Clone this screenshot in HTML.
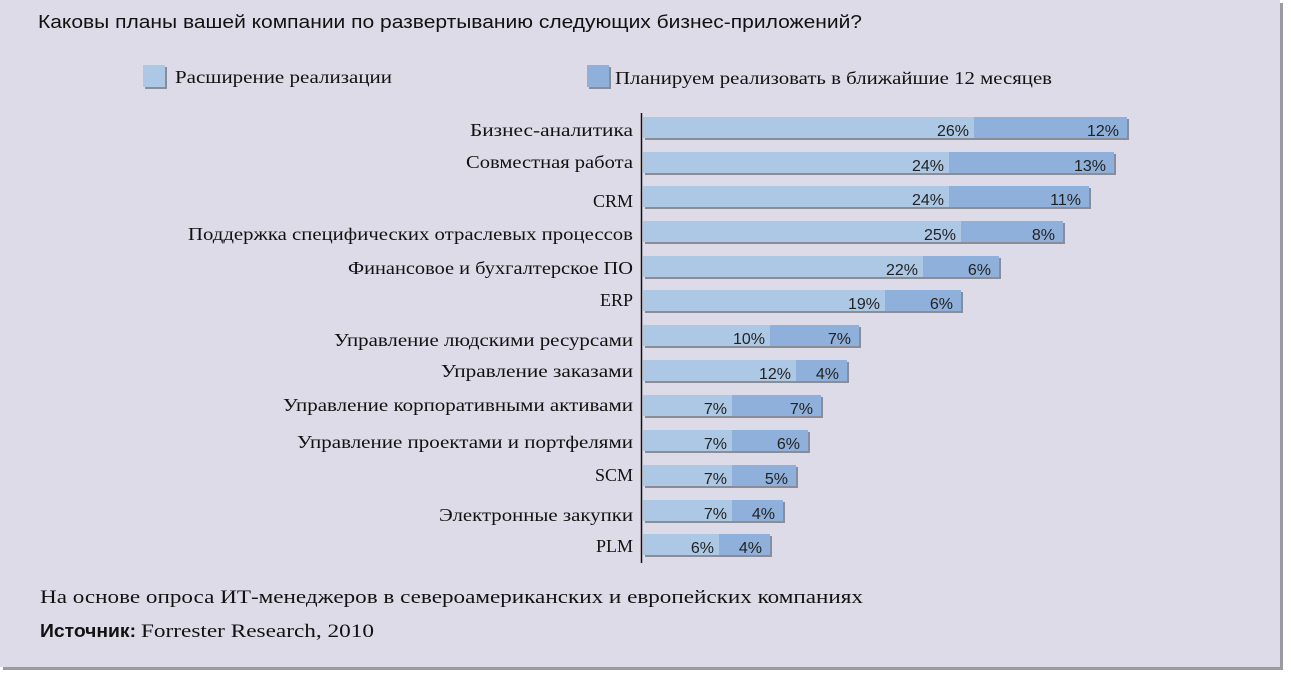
<!DOCTYPE html>
<html><head><meta charset="utf-8"><style>
html,body{margin:0;padding:0;background:#fff;}
svg{display:block;}
.lb{font-family:"Liberation Serif",serif;font-size:18px;fill:#111;text-anchor:end;}
.v{font-family:"Liberation Sans",sans-serif;font-size:16px;fill:#222;text-anchor:end;}
</style></head><body>
<svg width="1291" height="674" viewBox="0 0 1291 674" xmlns="http://www.w3.org/2000/svg">
<rect x="3" y="3" width="1280" height="667" fill="#9a9aa2"/>
<rect x="0" y="0" width="1280" height="667" fill="#dddbe8"/>
<text x="38" y="28" font-family="Liberation Sans,sans-serif" font-size="18" fill="#111" textLength="824" lengthAdjust="spacingAndGlyphs">Каковы планы вашей компании по развертыванию следующих бизнес-приложений?</text>
<rect x="145" y="67" width="22" height="22" fill="#8a8c98"/>
<rect x="143" y="65" width="22" height="22" fill="#adc8e4"/>
<text x="175" y="83" font-family="Liberation Serif,serif" font-size="18" fill="#111" textLength="217" lengthAdjust="spacingAndGlyphs">Расширение реализации</text>
<rect x="589" y="67" width="22" height="22" fill="#8a8c98"/>
<rect x="587" y="65" width="22" height="22" fill="#8fb0da"/>
<text x="615" y="84" font-family="Liberation Serif,serif" font-size="18" fill="#111" textLength="437" lengthAdjust="spacingAndGlyphs">Планируем реализовать в ближайшие 12 месяцев</text>
<g fill="#8a8c98">
<rect x="645" y="119" width="484" height="21"/><rect x="645" y="154" width="471" height="21"/><rect x="645" y="188" width="446" height="21"/><rect x="645" y="223" width="420" height="21"/><rect x="645" y="258" width="356" height="21"/><rect x="645" y="292" width="318" height="21"/><rect x="645" y="327" width="216" height="21"/><rect x="645" y="362" width="204" height="21"/><rect x="645" y="397" width="178" height="21"/><rect x="645" y="432" width="165" height="21"/><rect x="645" y="467" width="153" height="21"/><rect x="645" y="502" width="140" height="21"/><rect x="645" y="536" width="127" height="21"/>
</g>
<g fill="#8fb0da">
<rect x="643" y="117" width="484" height="21"/><rect x="643" y="152" width="471" height="21"/><rect x="643" y="186" width="446" height="21"/><rect x="643" y="221" width="420" height="21"/><rect x="643" y="256" width="356" height="21"/><rect x="643" y="290" width="318" height="21"/><rect x="643" y="325" width="216" height="21"/><rect x="643" y="360" width="204" height="21"/><rect x="643" y="395" width="178" height="21"/><rect x="643" y="430" width="165" height="21"/><rect x="643" y="465" width="153" height="21"/><rect x="643" y="500" width="140" height="21"/><rect x="643" y="534" width="127" height="21"/>
</g>
<g fill="#adc8e4">
<rect x="643" y="117" width="331" height="21"/><rect x="643" y="152" width="306" height="21"/><rect x="643" y="186" width="306" height="21"/><rect x="643" y="221" width="318" height="21"/><rect x="643" y="256" width="280" height="21"/><rect x="643" y="290" width="242" height="21"/><rect x="643" y="325" width="127" height="21"/><rect x="643" y="360" width="153" height="21"/><rect x="643" y="395" width="89" height="21"/><rect x="643" y="430" width="89" height="21"/><rect x="643" y="465" width="89" height="21"/><rect x="643" y="500" width="89" height="21"/><rect x="643" y="534" width="76" height="21"/>
</g>
<line x1="641.5" y1="113" x2="641.5" y2="563" stroke="#111" stroke-width="1.5"/>
<g class="v">
<text x="969" y="136">26%</text><text x="1119" y="136">12%</text>
<text x="944" y="171">24%</text><text x="1106" y="171">13%</text>
<text x="944" y="205">24%</text><text x="1081" y="205">11%</text>
<text x="956" y="240">25%</text><text x="1055" y="240">8%</text>
<text x="918" y="275">22%</text><text x="991" y="275">6%</text>
<text x="880" y="309">19%</text><text x="953" y="309">6%</text>
<text x="765" y="344">10%</text><text x="851" y="344">7%</text>
<text x="791" y="379">12%</text><text x="839" y="379">4%</text>
<text x="727" y="414">7%</text><text x="813" y="414">7%</text>
<text x="727" y="449">7%</text><text x="800" y="449">6%</text>
<text x="727" y="484">7%</text><text x="788" y="484">5%</text>
<text x="727" y="519">7%</text><text x="775" y="519">4%</text>
<text x="714" y="553">6%</text><text x="762" y="553">4%</text>
</g>
<g class="lb">
<text x="633" y="136" textLength="163" lengthAdjust="spacingAndGlyphs">Бизнес-аналитика</text>
<text x="633" y="168" textLength="167" lengthAdjust="spacingAndGlyphs">Совместная работа</text>
<text x="633" y="207">CRM</text>
<text x="633" y="240" textLength="445" lengthAdjust="spacingAndGlyphs">Поддержка специфических отраслевых процессов</text>
<text x="633" y="274" textLength="285" lengthAdjust="spacingAndGlyphs">Финансовое и бухгалтерское ПО</text>
<text x="633" y="306">ERP</text>
<text x="633" y="346" textLength="299" lengthAdjust="spacingAndGlyphs">Управление людскими ресурсами</text>
<text x="633" y="377" textLength="192" lengthAdjust="spacingAndGlyphs">Управление заказами</text>
<text x="633" y="411" textLength="350" lengthAdjust="spacingAndGlyphs">Управление корпоративными активами</text>
<text x="633" y="448" textLength="336" lengthAdjust="spacingAndGlyphs">Управление проектами и портфелями</text>
<text x="633" y="481">SCM</text>
<text x="633" y="521" textLength="194" lengthAdjust="spacingAndGlyphs">Электронные закупки</text>
<text x="633" y="552">PLM</text>
</g>
<text x="40" y="603" font-family="Liberation Serif,serif" font-size="19" fill="#111" textLength="823" lengthAdjust="spacingAndGlyphs">На основе опроса ИТ-менеджеров в североамериканских и европейских компаниях</text>
<text x="40" y="637" font-family="Liberation Sans,sans-serif" font-size="18" font-weight="bold" fill="#111" textLength="96" lengthAdjust="spacingAndGlyphs">Источник:</text>
<text x="141" y="637" font-family="Liberation Serif,serif" font-size="19" fill="#111" textLength="233" lengthAdjust="spacingAndGlyphs">Forrester Research, 2010</text>
</svg>
</body></html>
